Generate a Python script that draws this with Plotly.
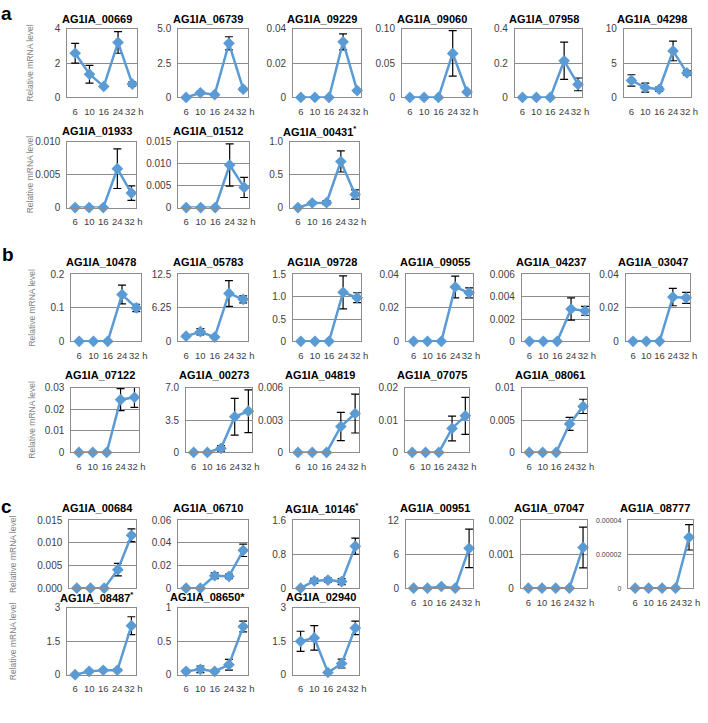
import plotly.graph_objects as go

W, H = 708, 723

hours = ["6", "10", "16", "24", "32 h"]

# ---------------- section a ----------------
genes_a = ["AG1IA_00669", "AG1IA_06739", "AG1IA_09229", "AG1IA_09060", "AG1IA_07958",
           "AG1IA_04298", "AG1IA_01933", "AG1IA_01512", "AG1IA_00431<sup>*</sup>"]
mean_a = [[2.57, 1.35, 0.64, 3.2, 0.78],
          [0.0, 0.34, 0.2, 3.93, 0.6],
          [0, 0, 0, 0.0323, 0.004],
          [0, 0, 0, 0.064, 0.008],
          [0, 0, 0, 0.213, 0.076],
          [2.47, 1.43, 1.19, 6.76, 3.57],
          [0, 0, 0, 0.0059, 0.0022],
          [0, 0, 0, 0.0097, 0.0046],
          [0, 0.07, 0.075, 0.70, 0.2]]
sd_a = [[0.57, 0.52, 0.05, 0.63, 0.12],
        [0.05, 0.1, 0.06, 0.48, 0.1],
        [0, 0, 0, 0.0047, 0.0006],
        [0, 0, 0, 0.033, 0.002],
        [0, 0, 0, 0.108, 0.037],
        [0.83, 0.66, 0.3, 1.43, 0.33],
        [0, 0, 0, 0.003, 0.0011],
        [0, 0, 0, 0.0048, 0.0023],
        [0.01, 0.02, 0.03, 0.16, 0.07]]
yticks_a = [["0", "2", "4"], ["0", "2.5", "5.0"], ["0", "0.02", "0.04"], ["0", "0.05", "0.10"],
            ["0", "0.2", "0.4"], ["0", "5", "10"], ["0", "0.005", "0.010"],
            ["0", "0.005", "0.010", "0.015"], ["0", "0.5", "1.0"]]

# ---------------- section b ----------------
genes_b = ["AG1IA_10478", "AG1IA_05783", "AG1IA_09728", "AG1IA_09055", "AG1IA_04237",
           "AG1IA_03047", "AG1IA_07122", "AG1IA_00273", "AG1IA_04819", "AG1IA_07075",
           "AG1IA_08061"]
mean_b = [[0, 0, 0, 0.14, 0.10],
          [0.97, 1.8, 0.8, 8.95, 7.85],
          [0, 0, 0, 1.1, 0.98],
          [0, 0, 0, 0.0325, 0.029],
          [0, 0, 0, 0.0029, 0.00274],
          [0, 0, 0, 0.0265, 0.026],
          [0, 0, 0, 0.0244, 0.0255],
          [0, 0, 0.45, 3.85, 4.45],
          [0, 0, 0, 0.0024, 0.0036],
          [0, 0, 0, 0.0074, 0.0113],
          [0, 0, 0, 0.0044, 0.0071]]
sd_b = [[0, 0, 0, 0.028, 0.011],
        [0.2, 0.6, 0.15, 2.4, 0.65],
        [0, 0, 0, 0.37, 0.11],
        [0, 0, 0, 0.0065, 0.003],
        [0, 0, 0, 0.001, 0.0004],
        [0, 0, 0, 0.0052, 0.0033],
        [0, 0, 0, 0.0051, 0.0047],
        [0, 0, 0.3, 1.98, 2.3],
        [0, 0, 0, 0.0013, 0.0018],
        [0, 0, 0, 0.0038, 0.0057],
        [0, 0, 0, 0.001, 0.0011]]
yticks_b = [["0", "0.1", "0.2"], ["0", "6.25", "12.5"], ["0", "0.5", "1.0", "1.5"],
            ["0", "0.02", "0.04"], ["0", "0.002", "0.004", "0.006"], ["0", "0.02", "0.04"],
            ["0", "0.01", "0.02", "0.03"], ["0", "3.5", "7.0"], ["0", "0.003", "0.006"],
            ["0", "0.01", "0.02"], ["0", "0.005", "0.01"]]

# ---------------- section c ----------------
genes_c = ["AG1IA_00684", "AG1IA_06710", "AG1IA_10146<sup>*</sup>", "AG1IA_00951",
           "AG1IA_07047", "AG1IA_08777", "AG1IA_08487<sup>*</sup>", "AG1IA_08650*",
           "AG1IA_02940"]
mean_c = [[0, 0, 0, 0.0041, 0.0117],
          [0, 0, 0.011, 0.0105, 0.0335],
          [0, 0.17, 0.19, 0.155, 0.99],
          [0, 0, 0.3, 0, 7.05],
          [0, 0, 0, 0, 0.0012],
          [0, 0, 0, 0, 0.00003],
          [0, 0.15, 0.2, 0.2, 2.2],
          [0.05, 0.08, 0.05, 0.15, 0.72],
          [1.5, 1.65, 0.1, 0.5, 2.1]]
sd_c = [[0, 0, 0, 0.0014, 0.0014],
        [0, 0, 0.0025, 0.002, 0.0055],
        [0, 0.06, 0.05, 0.07, 0.19],
        [0, 0, 0.1, 0, 3.4],
        [0, 0, 0, 0, 0.0006],
        [0, 0, 0, 0, 0.0000075],
        [0, 0.05, 0.05, 0.05, 0.4],
        [0.02, 0.05, 0.02, 0.08, 0.08],
        [0.45, 0.55, 0.05, 0.2, 0.3]]
yticks_c = [["0.000", "0.005", "0.010", "0.015"], ["0", "0.02", "0.04", "0.06"],
            ["0", "0.8", "1.6"], ["0", "6", "12"], ["0", "0.001", "0.002"],
            ["0", "0.00002", "0.00004"], ["0", "1.5", "3"], ["0", "0.5", "1"],
            ["0", "1.5", "3"]]

# ---------------- layout geometry (pixels) ----------------
rows_y = {"a1": (23, 93), "a2": (138, 205), "b1": (273, 341), "b2": (388, 454),
          "c1": (523, 592), "c2": (612, 680)}
title_y = {"a1": 13.5, "a2": 127, "b1": 260, "b2": 375, "c1": 510, "c2": 601}
ytitle_x = {"a1": 30, "a2": 30, "b1": 32, "b2": 32, "c1": 13, "c2": 13}
boxes_x = {
    "a1": [(68, 138), (180, 250), (296, 365), (406, 476), (520, 588), (630, 698)],
    "a2": [(68, 137), (180, 251), (293, 363)],
    "b1": [(72, 142), (180, 250), (296, 365), (410, 478), (527, 595), (632, 697)],
    "b2": [(72, 140), (188, 255), (293, 363), (409, 474), (527, 593)],
    "c1": [(70, 137), (180, 250), (296, 363), (410, 478), (526, 593), (634, 700)],
    "c2": [(68, 137), (180, 250), (296, 363)],
}
# c1 panels whose hour labels are covered by the c2 charts in the original figure
covered = {("c1", 0), ("c1", 1), ("c1", 2)}
sections = [("a", ["a1", "a2"], genes_a, mean_a, sd_a, yticks_a),
            ("b", ["b1", "b2"], genes_b, mean_b, sd_b, yticks_b),
            ("c", ["c1", "c2"], genes_c, mean_c, sd_c, yticks_c)]
letter_pos = {"a": (7, 8), "b": (8, 253), "c": (7, 509)}

BLUE = "#5B9BD5"
GRID = "#8c8c8c"
FONT = "Arial, Liberation Sans, sans-serif"

fig = go.Figure()
layout = {}
annotations = []
k = 0
for letter, rows, genes, means, sds, yticks in sections:
    lx, ly = letter_pos[letter]
    annotations.append(dict(x=lx / W, y=1 - ly / H, xref="paper", yref="paper",
                            text="<b>%s</b>" % letter, showarrow=False,
                            xanchor="center", yanchor="middle",
                            font=dict(size=19, color="black", family=FONT)))
    idx = 0
    for r in rows:
        y0, y1 = rows_y[r]
        for bi, (x0, x1) in enumerate(boxes_x[r]):
            k += 1
            sfx = "" if k == 1 else str(k)
            ticks = yticks[idx]
            tv = [float(t) for t in ticks]
            small = max(len(t) for t in ticks) > 6
            fig.add_trace(go.Scatter(
                x=list(range(len(hours))), y=means[idx],
                mode="lines+markers",
                line=dict(color=BLUE, width=2.5),
                marker=dict(symbol="diamond", size=9, color=BLUE),
                error_y=dict(type="data", array=sds[idx], visible=True,
                             color="black", thickness=1.2, width=4),
                xaxis="x" + sfx, yaxis="y" + sfx, showlegend=False,
                cliponaxis=False))
            layout["xaxis" + sfx] = dict(
                domain=[x0 / W, x1 / W], anchor="y" + sfx, range=[-0.55, 4.3],
                tickvals=[0, 1, 2, 3, 4.14], ticktext=hours, tickangle=0,
                showticklabels=(r, bi) not in covered,
                showgrid=False, zeroline=False, showline=True, linecolor=GRID,
                linewidth=1, mirror=True, ticks="", ticklabelstandoff=5,
                tickfont=dict(size=9.5, color="#404040", family=FONT), fixedrange=True)
            layout["yaxis" + sfx] = dict(
                domain=[1 - y1 / H, 1 - y0 / H], anchor="x" + sfx,
                range=[0, tv[-1]], tickvals=tv, ticktext=ticks,
                showgrid=True, gridcolor=GRID, gridwidth=1, zeroline=False,
                showline=True, linecolor=GRID, linewidth=1, mirror=True, ticks="",
                ticklabelstandoff=4,
                tickfont=dict(size=7 if small else 10, color="#404040", family=FONT),
                fixedrange=True)
            annotations.append(dict(
                x=((x0 + x1) / 2 - 5) / W, y=1 - title_y[r] / H, xref="paper", yref="paper",
                text="<b>%s</b>" % genes[idx], showarrow=False, xanchor="center",
                yanchor="middle", font=dict(size=11, color="black", family=FONT)))
            if bi == 0:
                annotations.append(dict(
                    x=ytitle_x[r] / W, y=1 - (y0 + y1) / 2 / H, xref="paper", yref="paper",
                    text="Relative mRNA level", textangle=-90, showarrow=False,
                    xanchor="center", yanchor="middle",
                    font=dict(size=8.5, color="#7f7f7f", family=FONT)))
            idx += 1

fig.update_layout(width=W, height=H, margin=dict(l=0, r=0, t=0, b=0),
                  paper_bgcolor="white", plot_bgcolor="white",
                  annotations=annotations, **layout)
fig.write_html("out.html", config={"displayModeBar": False},
               post_script="document.body.style.margin='0';"
                           "document.body.style.overflow='hidden';")
